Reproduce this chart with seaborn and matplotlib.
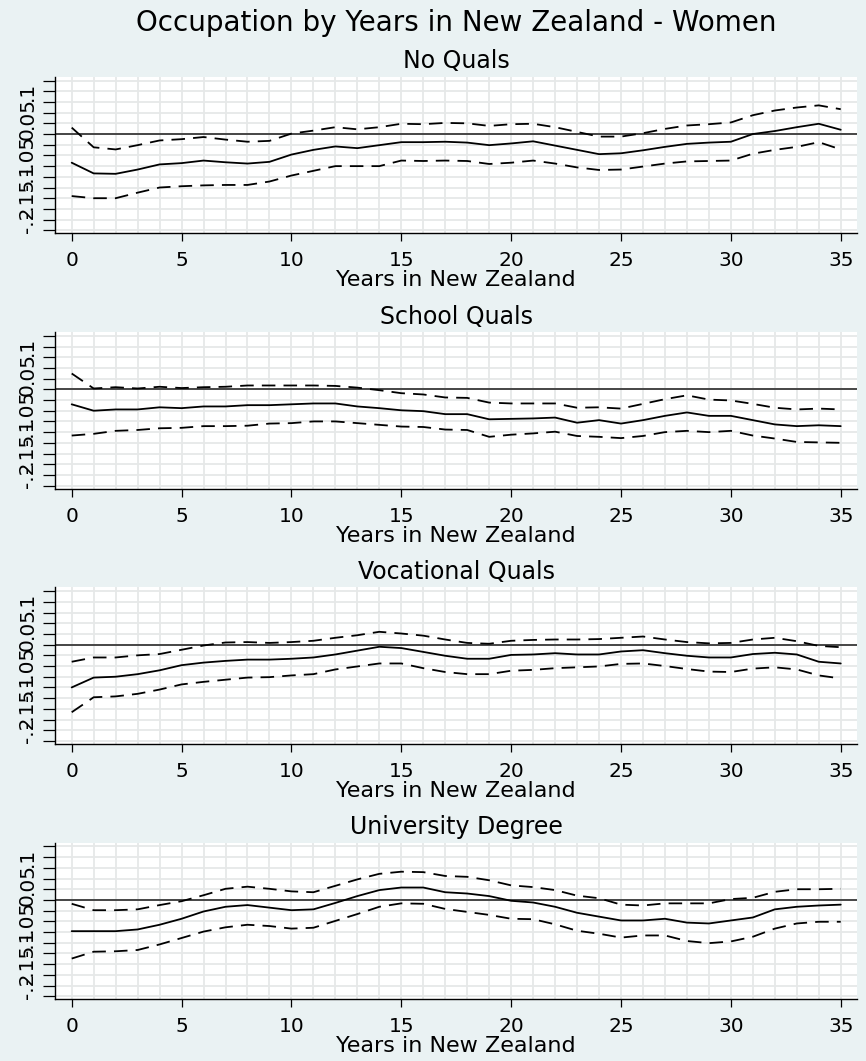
import numpy as np
import pandas as pd
import matplotlib
matplotlib.use('Agg')
import matplotlib.pyplot as plt
from matplotlib.ticker import MultipleLocator, FuncFormatter
import seaborn as sns

sns.set_style('white')
plt.rcParams['font.family'] = ['DejaVu Sans']
plt.rcParams['text.color'] = 'black'
plt.rcParams['axes.labelcolor'] = 'black'
plt.rcParams['xtick.color'] = 'black'
plt.rcParams['ytick.color'] = 'black'

# Data: point estimate and 95% band per year since arrival
years = list(range(36))
panel_titles = ['No Quals', 'School Quals', 'Vocational Quals', 'University Degree']

noqual_est = [-0.067, -0.092, -0.093, -0.083, -0.071, -0.068, -0.062, -0.066, -0.069, -0.065,
              -0.048, -0.037, -0.029, -0.033, -0.026, -0.019, -0.019, -0.018, -0.020, -0.026,
              -0.022, -0.017, -0.027, -0.037, -0.047, -0.045, -0.038, -0.030, -0.023, -0.020,
              -0.018, 0.000, 0.007, 0.016, 0.024, 0.010]
noqual_hi = [0.015, -0.031, -0.036, -0.026, -0.015, -0.012, -0.007, -0.013, -0.018, -0.016,
             0.001, 0.008, 0.016, 0.011, 0.016, 0.024, 0.023, 0.026, 0.025, 0.019,
             0.023, 0.024, 0.016, 0.005, -0.006, -0.006, 0.002, 0.012, 0.020, 0.023,
             0.027, 0.044, 0.055, 0.062, 0.067, 0.058]
noqual_lo = [-0.145, -0.150, -0.150, -0.137, -0.125, -0.122, -0.120, -0.119, -0.119, -0.111,
             -0.097, -0.086, -0.075, -0.075, -0.075, -0.062, -0.063, -0.062, -0.063, -0.070,
             -0.067, -0.062, -0.069, -0.078, -0.084, -0.083, -0.076, -0.069, -0.064, -0.063,
             -0.062, -0.046, -0.037, -0.030, -0.019, -0.036]

school_est = [-0.035, -0.050, -0.047, -0.047, -0.042, -0.044, -0.040, -0.040, -0.037, -0.037,
              -0.035, -0.033, -0.033, -0.040, -0.044, -0.049, -0.051, -0.058, -0.058, -0.070,
              -0.069, -0.068, -0.066, -0.078, -0.072, -0.080, -0.072, -0.062, -0.054, -0.062,
              -0.062, -0.072, -0.082, -0.086, -0.084, -0.086]
school_hi = [0.037, 0.002, 0.005, 0.002, 0.006, 0.003, 0.005, 0.006, 0.009, 0.009,
             0.009, 0.009, 0.008, 0.004, -0.002, -0.009, -0.012, -0.019, -0.020, -0.031,
             -0.033, -0.033, -0.033, -0.043, -0.042, -0.045, -0.034, -0.023, -0.014, -0.024,
             -0.026, -0.034, -0.043, -0.047, -0.045, -0.047]
school_lo = [-0.108, -0.104, -0.097, -0.095, -0.091, -0.090, -0.086, -0.086, -0.085, -0.080,
             -0.079, -0.075, -0.075, -0.079, -0.083, -0.087, -0.088, -0.094, -0.095, -0.111,
             -0.106, -0.103, -0.099, -0.109, -0.111, -0.114, -0.109, -0.100, -0.097, -0.100,
             -0.097, -0.108, -0.115, -0.123, -0.124, -0.125]

voc_est = [-0.100, -0.077, -0.075, -0.069, -0.060, -0.048, -0.042, -0.038, -0.035, -0.035,
           -0.033, -0.030, -0.023, -0.014, -0.005, -0.008, -0.017, -0.026, -0.033, -0.033,
           -0.024, -0.023, -0.020, -0.023, -0.023, -0.016, -0.013, -0.020, -0.026, -0.030,
           -0.030, -0.022, -0.019, -0.023, -0.040, -0.044]
voc_hi = [-0.040, -0.030, -0.030, -0.025, -0.022, -0.012, -0.002, 0.005, 0.006, 0.004,
          0.006, 0.009, 0.016, 0.022, 0.030, 0.026, 0.021, 0.012, 0.004, 0.002,
          0.009, 0.011, 0.012, 0.012, 0.013, 0.016, 0.019, 0.012, 0.006, 0.003,
          0.004, 0.012, 0.016, 0.008, -0.003, -0.006]
voc_lo = [-0.158, -0.123, -0.121, -0.115, -0.105, -0.093, -0.087, -0.082, -0.077, -0.076,
          -0.072, -0.069, -0.058, -0.051, -0.044, -0.044, -0.055, -0.064, -0.069, -0.069,
          -0.061, -0.059, -0.055, -0.053, -0.051, -0.045, -0.044, -0.050, -0.057, -0.063,
          -0.064, -0.056, -0.053, -0.058, -0.072, -0.079]

uni_est = [-0.073, -0.073, -0.073, -0.069, -0.058, -0.044, -0.027, -0.016, -0.012, -0.018,
           -0.024, -0.022, -0.007, 0.009, 0.023, 0.029, 0.029, 0.018, 0.015, 0.009,
           -0.002, -0.006, -0.016, -0.030, -0.039, -0.048, -0.048, -0.044, -0.053, -0.055,
           -0.048, -0.041, -0.022, -0.016, -0.013, -0.011]
uni_hi = [-0.009, -0.024, -0.024, -0.022, -0.012, -0.003, 0.011, 0.026, 0.031, 0.026,
          0.020, 0.018, 0.033, 0.048, 0.061, 0.066, 0.065, 0.056, 0.054, 0.046,
          0.034, 0.030, 0.023, 0.010, 0.004, -0.011, -0.013, -0.008, -0.008, -0.008,
          0.002, 0.005, 0.019, 0.025, 0.025, 0.026]
uni_lo = [-0.137, -0.121, -0.120, -0.117, -0.104, -0.089, -0.074, -0.064, -0.058, -0.061,
          -0.067, -0.065, -0.049, -0.033, -0.016, -0.008, -0.009, -0.021, -0.028, -0.035,
          -0.044, -0.045, -0.057, -0.072, -0.079, -0.088, -0.083, -0.083, -0.096, -0.101,
          -0.097, -0.086, -0.067, -0.055, -0.051, -0.051]

panels = [
    (noqual_est, noqual_lo, noqual_hi),
    (school_est, school_lo, school_hi),
    (voc_est, voc_lo, voc_hi),
    (uni_est, uni_lo, uni_hi),
]

BG = '#eaf2f3'
GRID = '#e6e8e8'


def ylabel_fmt(v, pos):
    # Stata style: label every .05, drop leading zero
    k = int(round(v / 0.025))
    if k % 2:
        return ''
    s = f'{v:.2f}'.rstrip('0').rstrip('.')
    s = s.replace('0.', '.')
    return '0' if s in ('', '-0', '.') else s


W, H = 866, 1061
fig = plt.figure(figsize=(W / 100, H / 100), dpi=100, facecolor=BG)

left, right = 55, 857
ph = 156.6
tops = [76.7 + 255.3 * i for i in range(4)]

for i, (est, lo, hi) in enumerate(panels):
    top = tops[i]
    ax = fig.add_axes([left / W, 1 - (top + ph) / H, (right - left) / W, ph / H])
    ax.set_facecolor('white')

    ax.axhline(0, color='#2b2b2b', lw=1.2, zorder=2)
    sns.lineplot(x=years, y=hi, ax=ax, color='black', lw=1.3,
                 linestyle=(0, (7.5, 4.5)), errorbar=None, zorder=3)
    sns.lineplot(x=years, y=est, ax=ax, color='black', lw=1.3,
                 errorbar=None, zorder=3)
    sns.lineplot(x=years, y=lo, ax=ax, color='black', lw=1.3,
                 linestyle=(0, (7.5, 4.5)), errorbar=None, zorder=3)

    ax.set_xlim(-0.76, 35.74)
    ax.set_ylim(-0.232, 0.134)

    ax.xaxis.set_major_locator(MultipleLocator(5))
    ax.xaxis.set_minor_locator(MultipleLocator(1))
    ax.yaxis.set_major_locator(MultipleLocator(0.025))
    ax.yaxis.set_major_formatter(FuncFormatter(ylabel_fmt))

    ax.grid(True, which='both', color=GRID, lw=1.3, zorder=0)
    ax.set_axisbelow(True)

    for side in ('top', 'right'):
        ax.spines[side].set_visible(False)
    for side in ('left', 'bottom'):
        ax.spines[side].set_color('black')
        ax.spines[side].set_linewidth(1.0)

    ax.tick_params(axis='x', which='major', direction='out', length=6, width=0.9,
                   color='black', labelcolor='black', labelsize=14.5, pad=7, bottom=True)
    ax.tick_params(axis='x', which='minor', length=0)
    ax.tick_params(axis='y', direction='out', length=8.5, width=0.9, color='black',
                   labelcolor='black', labelsize=14.5, pad=4.5, left=True)
    for lab in ax.get_yticklabels():
        lab.set_rotation(90)
        lab.set_va('center')

    ax.set_xlabel('Years in New Zealand', fontsize=16, labelpad=0, color='black')
    ax.set_ylabel('')
    ax.set_title(panel_titles[i], fontsize=17, pad=6, color='black')

fig.text(456 / W, 1 - 23 / H, 'Occupation by Years in New Zealand - Women',
         ha='center', va='center', fontsize=20, color='black')

fig.savefig('out.png', dpi=100, facecolor=BG)
